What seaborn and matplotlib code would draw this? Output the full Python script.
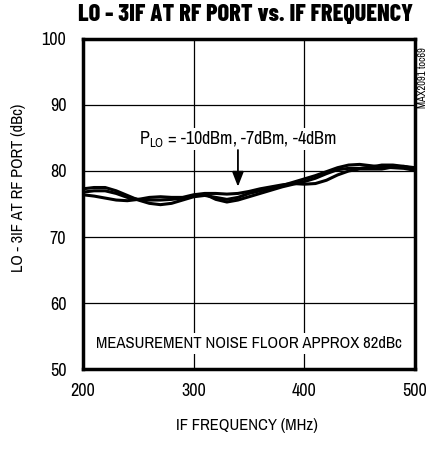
import numpy as np
import pandas as pd
import matplotlib
matplotlib.use('Agg')
import matplotlib.pyplot as plt
import seaborn as sns

# ── data ──────────────────────────────────────────────────────────────────────
FREQ = [200, 210, 220, 230, 240, 250, 260, 270, 280, 290, 300,
        310, 320, 330, 340, 350, 360, 370, 380, 390, 400,
        410, 420, 430, 440, 450, 460, 470, 480, 490, 500]
P_M10 = [77.3, 77.5, 77.5, 77.0, 76.3, 75.6, 75.1, 74.9, 75.1, 75.6, 76.1,
         76.3, 76.0, 75.7, 76.0, 76.6, 77.0, 77.4, 77.8, 78.3, 78.8,
         79.3, 79.9, 80.5, 80.9, 81.0, 80.8, 80.6, 80.5, 80.4, 80.1]
P_M7 = [76.8, 77.0, 77.0, 76.6, 76.0, 75.7, 75.6, 75.6, 75.7, 75.9, 76.2,
        76.5, 75.7, 75.3, 75.6, 76.1, 76.6, 77.1, 77.6, 78.0, 78.4,
        78.9, 79.6, 80.2, 80.4, 80.4, 80.6, 80.9, 80.9, 80.7, 80.3]
P_M4 = [76.4, 76.2, 75.9, 75.6, 75.5, 75.7, 76.0, 76.1, 76.0, 76.0, 76.4,
        76.6, 76.6, 76.5, 76.6, 76.9, 77.3, 77.6, 77.9, 78.1, 78.0,
        78.1, 78.6, 79.4, 80.0, 80.3, 80.3, 80.3, 80.6, 80.7, 80.5]
X_TICKS = [200, 300, 400, 500]
Y_TICKS = [50, 60, 70, 80, 90, 100]

df = pd.concat([
    pd.DataFrame({"freq": FREQ, "val": P_M10, "plo": "-10dBm"}),
    pd.DataFrame({"freq": FREQ, "val": P_M7, "plo": "-7dBm"}),
    pd.DataFrame({"freq": FREQ, "val": P_M4, "plo": "-4dBm"}),
])

# ── style ─────────────────────────────────────────────────────────────────────
sns.set_style("white")
FONT = ['Archivo Narrow', 'Liberation Sans', 'DejaVu Sans']
TITLE_FONT = ['Barlow Condensed', 'Liberation Sans', 'DejaVu Sans']
plt.rcParams['font.family'] = FONT
plt.rcParams['text.color'] = 'black'
plt.rcParams['axes.labelcolor'] = 'black'
plt.rcParams['xtick.color'] = 'black'
plt.rcParams['ytick.color'] = 'black'
plt.rcParams['mathtext.fontset'] = 'custom'
plt.rcParams['mathtext.rm'] = 'Archivo Narrow'

fig = plt.figure(figsize=(4.27, 4.55), dpi=100)
ax = fig.add_axes([0.1944, 0.189, 0.7775, 0.7253])

sns.lineplot(data=df, x="freq", y="val", hue="plo", palette=["black"] * 3,
             linewidth=2.2, legend=False, ax=ax, solid_capstyle="round")

ax.set_xlim(200, 500); ax.set_ylim(50, 100)
ax.set_xticks(X_TICKS); ax.set_yticks(Y_TICKS)
ax.grid(True, color="black", linewidth=0.9)
ax.tick_params(length=0, labelsize=13)
ax.tick_params(axis="y", pad=12)
ax.tick_params(axis="x", pad=10)
for s in ax.spines.values():
    s.set_color("black"); s.set_linewidth(2.5)
ax.set_xlabel("IF FREQUENCY (MHz)", fontsize=12)
ax.set_ylabel("LO - 3IF AT RF PORT (dBc)", fontsize=11.8)
ax.xaxis.set_label_coords(0.495, -0.148)
ax.yaxis.set_label_coords(-0.172, 0.55)

fig.text(0.576, 0.968, "LO - 3IF AT RF PORT vs. IF FREQUENCY", ha="center", va="center",
         fontsize=17.5, fontweight="heavy", family=TITLE_FONT)
fig.text(0.99, 0.83, "MAX2091 toc69", rotation=90, ha="center", va="center", fontsize=7.5)

ax.text(339.5, 84.85, r"P$_{\rm LO}$ = -10dBm, -7dBm, -4dBm", ha="center", va="center",
        fontsize=13, bbox=dict(facecolor="white", edgecolor="none", pad=1))
ax.annotate("", xy=(340, 77.2), xytext=(340, 83.6),
            arrowprops=dict(arrowstyle="-|>,head_length=0.9,head_width=0.35",
                            color="black", lw=1.3))
ax.text(350, 53.9, "MEASUREMENT NOISE FLOOR APPROX 82dBc", ha="center", va="center",
        fontsize=12, bbox=dict(facecolor="white", edgecolor="none", pad=2))

fig.savefig("out.png", dpi=100)
